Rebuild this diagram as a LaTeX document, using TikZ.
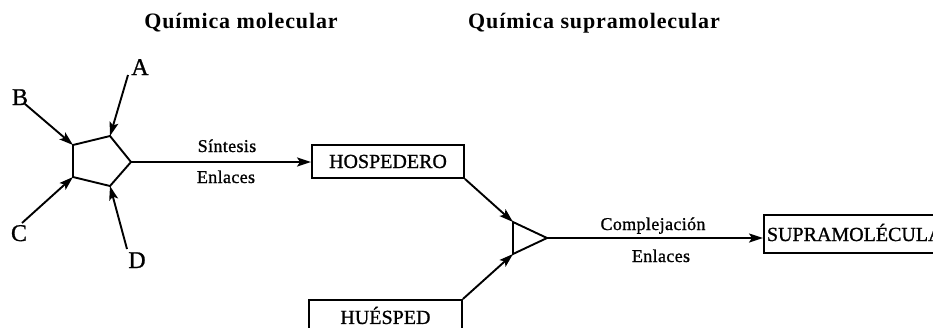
\documentclass[tikz,border=0pt]{standalone}
\usepackage{fontspec}
\setmainfont{Liberation Serif}
\usetikzlibrary{arrows.meta}
\begin{document}
\begin{tikzpicture}[x=1pt,y=-1pt,line width=1.9pt,
  arr/.style={-{Stealth[length=14pt,width=9pt,inset=3pt]}},
  lbl/.style={font=\fontsize{18}{18}\selectfont\addfontfeature{LetterSpace=2,FakeBold=1},inner sep=0pt,anchor=base},
  letter/.style={font=\fontsize{24}{24}\selectfont\addfontfeature{FakeBold=1},inner sep=0pt,anchor=base},
  titlelbl/.style={font=\fontsize{22}{22}\selectfont\bfseries\addfontfeature{LetterSpace=4},inner sep=0pt,anchor=base},
  boxnode/.style={draw,rectangle,font=\fontsize{20}{20}\selectfont\addfontfeature{FakeBold=1},inner sep=0pt,text height=13pt,text depth=0pt}]
\useasboundingbox (0,0) rectangle (933,327);

% titles
\node[titlelbl] (t1lbl) at (241,28) {Química molecular};
\node[titlelbl] (t2lbl) at (594,28) {Química supramolecular};

% pentagon
\coordinate (p1) at (73,145);
\coordinate (p2) at (110,136);
\coordinate (p3) at (131,162);
\coordinate (p4) at (110,186);
\coordinate (p5) at (73,177);
\draw (p1) -- (p2) -- (p3) -- (p4) -- (p5) -- cycle;

% reactant letters
\node[letter] (A) at (140,75) {A};
\node[letter] (B) at (20,105) {B};
\node[letter] (C) at (19,241) {C};
\node[letter] (D) at (137,268) {D};
\coordinate (a0) at (128,75);
\coordinate (b0) at (25,104);
\coordinate (c0) at (22,223);
\coordinate (d0) at (127,249);
\draw[arr] (a0) -- (p2);
\draw[arr] (b0) -- (p1);
\draw[arr] (c0) -- (p5);
\draw[arr] (d0) -- (p4);

% host box
\node[boxnode,minimum width=152pt,minimum height=33pt] (hosp) at (388,161.5) {HOSPEDERO};
\draw[arr] (p3) -- (hosp.west |- p3);
\node[lbl] (sint) at (227,152) {Síntesis};
\node[lbl] (enl1) at (226,183) {Enlaces};

% guest box
\node[boxnode,minimum width=153pt,minimum height=35pt,anchor=north west] (hues) at (308,299) {HUÉSPED};

% complex triangle
\coordinate (q1) at (513,222);
\coordinate (q2) at (513,254);
\coordinate (q3) at (547,238);
\draw (q1) -- (q3) -- (q2) -- cycle;
\draw[arr] (hosp.south east) -- (q1);
\draw[arr] (hues.north east) -- (q2);

% supramolecule
\node[draw,rectangle,font=\fontsize{20}{20}\selectfont\addfontfeature{FakeBold=1},inner xsep=3pt,inner ysep=0pt,text height=14pt,text depth=0pt,minimum height=38pt,anchor=west] (supra) at (763,234) {SUPRAMOLÉCULA};
\draw[arr] (q3) -- (supra.west |- q3);
\node[lbl] (compl) at (653,230) {Complejación};
\node[lbl] (enl2) at (661,262) {Enlaces};
\end{tikzpicture}
\end{document}
